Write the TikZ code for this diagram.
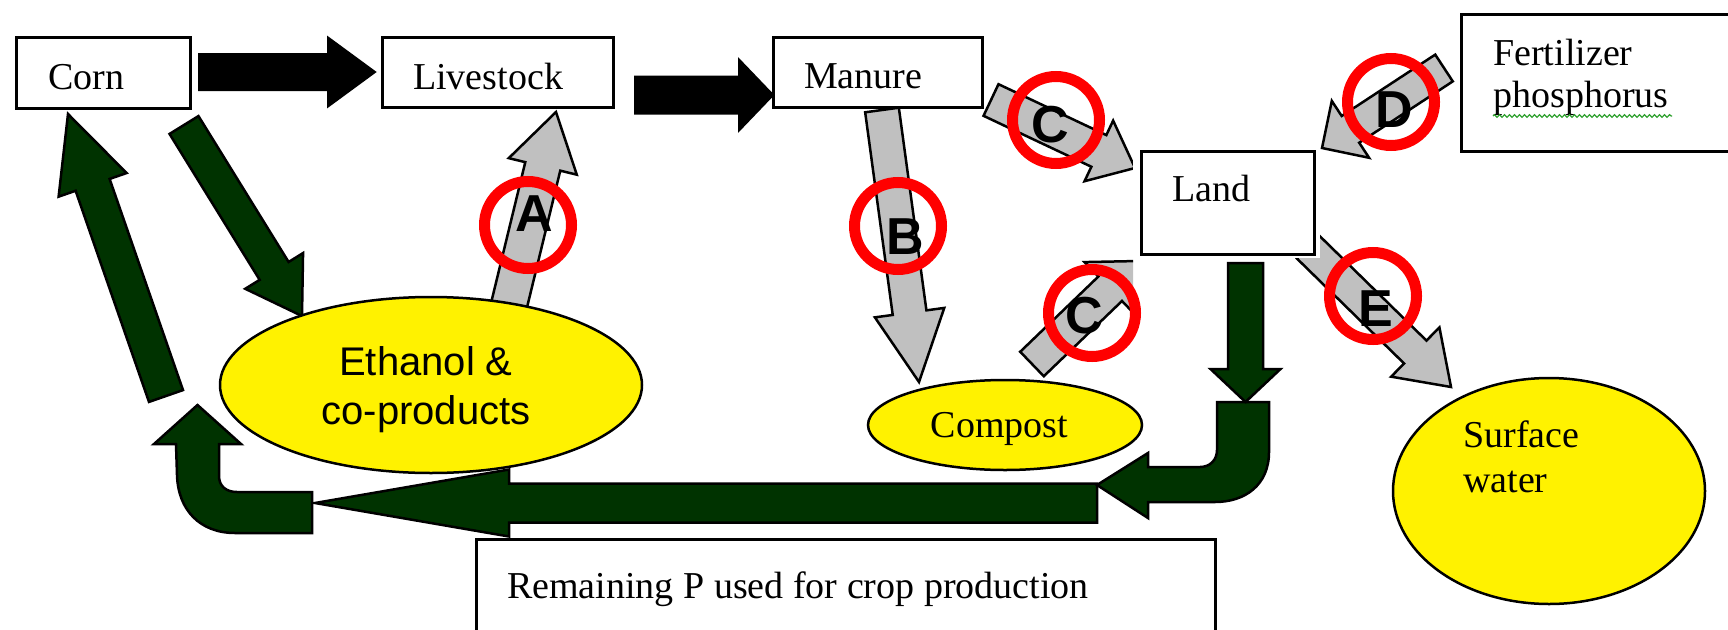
\documentclass[tikz,border=0pt]{standalone}
\usepackage{fontspec}
\setmainfont{Liberation Serif}
\newfontfamily\sansf{Liberation Sans}
\usetikzlibrary{calc,shapes.geometric,decorations.pathmorphing}
\definecolor{dkgreen}{HTML}{003300}
\definecolor{arrgray}{HTML}{C0C0C0}
\definecolor{spellgreen}{HTML}{2CA02C}
% block arrow: style, tail coord, tip coord, half shaft width, half head width, head length
\newcommand{\blkarrow}[6]{%
  \path ($(#3)!#6pt!(#2)$) coordinate (ba-b);
  \draw[#1] ($(#2)!#4pt!90:(#3)$) -- ($(ba-b)!#4pt!-90:(#2)$) -- ($(ba-b)!#5pt!-90:(#2)$)
    -- (#3) -- ($(ba-b)!#5pt!90:(#2)$) -- ($(ba-b)!#4pt!90:(#2)$) -- ($(#2)!#4pt!-90:(#3)$) -- cycle;}
\begin{document}
\begin{tikzpicture}[x=1pt,y=-1pt,line join=miter,
  box/.style={draw=black,line width=3pt,fill=white,rectangle,inner sep=0pt},
  txt/.style={inner sep=0pt,font=\fontsize{38}{42}\selectfont},
  sanstxt/.style={inner sep=0pt,font=\sansf\fontsize{40}{49}\selectfont},
  ell/.style={ellipse,draw=black,line width=2.5pt,fill=yellow,inner sep=0pt},
  blackarr/.style={fill=black,draw=black,line width=2pt},
  grayarr/.style={fill=arrgray,draw=black,line width=2.5pt},
  greenarr/.style={fill=dkgreen,draw=black,line width=2.5pt},
  ring/.style={circle,draw=red,line width=11pt,minimum size=87pt,inner sep=0pt},
  letter/.style={inner sep=0pt,font=\sansf\bfseries\fontsize{52}{56}\selectfont}]
\useasboundingbox[fill=white] (0,0) rectangle (1728,629);

% connector end points
\coordinate (cl-t) at (199,72);   \coordinate (cl-p) at (375,72);
\coordinate (lm-t) at (635,95);   \coordinate (lm-p) at (773,95);
\coordinate (A-t) at (503,330);   \coordinate (A-p) at (556,112);
\coordinate (B-t) at (882,110);   \coordinate (B-p) at (919,382);
\coordinate (C1-t) at (991,100);  \coordinate (C1-p) at (1135,168);
\coordinate (C2-t) at (1032,364); \coordinate (C2-p) at (1139,261);
\coordinate (D-t) at (1444,68);   \coordinate (D-p) at (1322,148);
\coordinate (E-t) at (1308,247);  \coordinate (E-p) at (1451,387);
\coordinate (ce-t) at (184,125);  \coordinate (ce-p) at (302,316);
\coordinate (up-t) at (166,396);  \coordinate (up-p) at (68,114);
\coordinate (ld-t) at (1245.5,263); \coordinate (ld-p) at (1245.5,402);
\coordinate (lg-t) at (1097,503); \coordinate (lg-p) at (315,503);

% arrows
\blkarrow{blackarr}{cl-t}{cl-p}{18}{34.5}{47}
\blkarrow{blackarr}{lm-t}{lm-p}{18.5}{35.5}{34}
\blkarrow{grayarr}{A-t}{A-p}{18}{35}{56}
\blkarrow{grayarr}{B-t}{B-p}{17}{35}{70}
\blkarrow{grayarr}{C1-t}{C1-p}{17.5}{33.5}{40}
\begin{scope}
  \clip (0,0) rectangle (1133,629);
  \blkarrow{grayarr}{C2-t}{C2-p}{17}{37}{40}
\end{scope}
\blkarrow{grayarr}{D-t}{D-p}{16}{34}{34}
\blkarrow{grayarr}{E-t}{E-p}{16}{34.5}{50}
\blkarrow{greenarr}{ce-t}{ce-p}{17}{34}{53}
\blkarrow{greenarr}{up-t}{up-p}{18}{36}{75}
\blkarrow{greenarr}{lg-t}{lg-p}{19.5}{33.5}{194}

% bent arrow at the left (up towards Corn arrow)
\draw[greenarr] (312,492) -- (237,492) .. controls (226,492) and (219,486) .. (219,476)
  -- (219,444) -- (241,444) -- (197.5,405) -- (154,444) -- (176,444) -- (177,475)
  .. controls (178,510) and (200,533) .. (235,533) -- (312,533) -- cycle;
% U-turn arrow at the right
\draw[greenarr] (1217,402) -- (1269,402) -- (1269,452) .. controls (1269,485) and (1245,502) .. (1215,502)
  -- (1148,502) -- (1148,518) -- (1097,485) -- (1148,453) -- (1148,467) -- (1200,467)
  .. controls (1210,467) and (1217,460) .. (1217,450) -- cycle;
\blkarrow{greenarr}{ld-t}{ld-p}{17.5}{35}{33}

% white margin round Land
\fill[white] (1133,145) rectangle (1320,258);

% boxes
\node[box,minimum width=174pt,minimum height=71pt] (corn) at (103,72.5) {};
\node[box,minimum width=231pt,minimum height=70pt] (livestock) at (497.5,72) {};
\node[box,minimum width=209pt,minimum height=70pt] (manure) at (877.5,72) {};
\node[box,minimum width=173pt,minimum height=103pt] (land) at (1227.5,202.5) {};
\node[box,minimum width=279pt,minimum height=137pt] (fert) at (1600.5,82.5) {};
\node[box,minimum width=739pt,minimum height=101pt] (remain) at (845.5,589.5) {};

\node[txt,anchor=base west] (corn-t) at (48,89) {Corn};
\node[txt,anchor=base west] (livestock-t) at (413,89) {Livestock};
\node[txt,anchor=base west] (manure-t) at (804,88) {Manure};
\node[txt,anchor=base west] (land-t) at (1172,201) {Land};
\node[txt,anchor=base west] (fert-t1) at (1493,65) {Fertilizer};
\node[txt,anchor=base west] (fert-t2) at (1493,107) {phosphorus};
\node[txt,anchor=base west] (remain-t) at (507,598) {Remaining P used for crop production};
\coordinate (sq1) at (1493,116); \coordinate (sq2) at (1672,116);
\draw[spellgreen,line width=1.2pt,decorate,decoration={snake,amplitude=1.3pt,segment length=5pt}] (sq1) -- (sq2);

% ellipses
\node[ell,minimum width=422pt,minimum height=176pt] (ethanol) at (431,385) {};
\node[sanstxt,anchor=base] (eth-t1) at (426,375) {Ethanol \&};
\node[sanstxt,anchor=base] (eth-t2) at (426,424) {co-products};
\node[ell,minimum width=274pt,minimum height=90pt] (compost) at (1005,425) {};
\node[txt,anchor=base] (compost-t) at (999.5,437) {Compost};
\node[ell,minimum width=312pt,minimum height=226pt] (surface) at (1549,491) {};
\node[txt,anchor=base west] (surface-t1) at (1463,447) {Surface};
\node[txt,anchor=base west] (surface-t2) at (1463,492) {water};

% red rings and letters
\node[ring] (ringA) at (528,225) {};
\node[ring] (ringB) at (898,226) {};
\node[ring] (ringC1) at (1056,120) {};
\node[ring] (ringC2) at (1092,313) {};
\node[ring] (ringD) at (1391,102) {};
\node[ring] (ringE) at (1373,296) {};
\node[letter] (letA) at (534,214) {A};
\node[letter] (letB) at (905,237) {B};
\node[letter] (letC1) at (1050,125) {C};
\node[letter] (letC2) at (1084,316) {C};
\node[letter] (letD) at (1394,110) {D};
\node[letter] (letE) at (1376,309) {E};
\end{tikzpicture}
\end{document}
